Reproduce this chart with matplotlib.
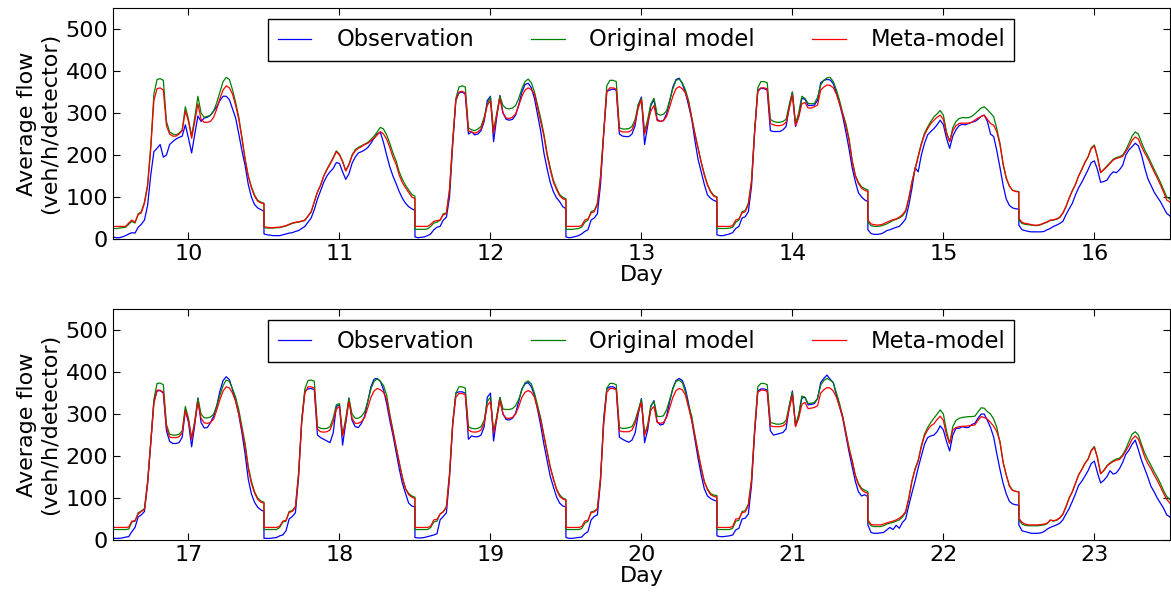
import numpy as np
import matplotlib
matplotlib.use("Agg")
import matplotlib.pyplot as plt

# sample times inside one day (hours), every 30 min from 0:00 to 24:00
HALF_HOURS = np.arange(0, 24.5, 0.5)

DAYS_TOP = [10, 11, 12, 13, 14, 15, 16]
DAYS_BOTTOM = [17, 18, 19, 20, 21, 22, 23]

# ---- week 1 (days 10-16) ----
obs_top = [
    [5, 3, 3, 5, 8, 12, 15, 14, 28, 35, 45, 80,
     152, 208, 216, 225, 195, 200, 225, 232, 238, 242, 245, 272,
     240, 205, 250, 293, 280, 288, 290, 295, 305, 315, 330, 340,
     340, 332, 310, 288, 250, 210, 175, 130, 100, 82, 74, 70, 66],
    [12, 10, 9, 8, 8, 8, 10, 12, 14, 15, 18, 20,
     25, 30, 40, 50, 70, 95, 115, 135, 150, 160, 168, 182,
     180, 160, 142, 155, 180, 195, 205, 208, 212, 218, 228, 240,
     250, 254, 230, 200, 172, 150, 132, 113, 97, 85, 77, 72, 68],
    [5, 3, 4, 5, 8, 12, 22, 28, 30, 45, 52, 100,
     225, 330, 348, 350, 345, 250, 255, 248, 250, 258, 280, 330,
     340, 232, 290, 342, 300, 285, 283, 285, 295, 320, 350, 368,
     371, 360, 335, 295, 256, 205, 168, 135, 113, 98, 89, 77, 72],
    [5, 3, 4, 6, 8, 12, 18, 22, 45, 50, 60, 130,
     250, 352, 355, 357, 355, 250, 245, 244, 244, 250, 270, 320,
     338, 225, 270, 318, 332, 285, 280, 282, 298, 330, 362, 380,
     383, 370, 348, 318, 285, 235, 190, 160, 130, 105, 97, 92, 89],
    [10, 8, 8, 10, 12, 15, 25, 30, 50, 53, 65, 125,
     255, 355, 359, 358, 355, 258, 256, 256, 256, 260, 268, 315,
     350, 268, 292, 335, 333, 318, 318, 319, 330, 372, 378, 380,
     379, 370, 348, 322, 292, 255, 215, 170, 137, 110, 100, 93, 89],
    [22, 13, 11, 11, 12, 15, 20, 22, 25, 28, 30, 38,
     48, 80, 120, 170, 160, 200, 228, 248, 256, 263, 272, 283,
     272, 240, 216, 245, 260, 270, 273, 272, 275, 278, 280, 285,
     292, 295, 280, 250, 244, 210, 170, 128, 95, 80, 74, 72, 71],
    [33, 22, 20, 18, 17, 17, 17, 17, 18, 22, 25, 30,
     33, 37, 42, 58, 72, 85, 105, 122, 135, 150, 165, 182,
     186, 165, 135, 137, 140, 152, 160, 158, 165, 175, 200, 212,
     220, 228, 222, 200, 170, 144, 128, 112, 100, 89, 75, 61, 55],
]

orig_top = [
    [25, 25, 26, 27, 28, 35, 42, 38, 60, 65, 88, 130,
     220, 345, 380, 382, 378, 280, 255, 250, 248, 252, 260, 315,
     285, 245, 290, 340, 300, 290, 292, 295, 305, 325, 350, 375,
     385, 380, 355, 325, 290, 240, 190, 150, 125, 105, 92, 88, 85],
    [27, 26, 26, 26, 27, 27, 29, 31, 34, 37, 39, 40,
     42, 44, 54, 64, 88, 112, 128, 150, 166, 180, 194, 210,
     202, 185, 163, 178, 200, 213, 218, 222, 226, 230, 237, 245,
     255, 266, 262, 248, 228, 205, 186, 160, 142, 128, 117, 106, 102],
    [23, 23, 23, 23, 24, 30, 38, 40, 45, 60, 62, 115,
     230, 335, 362, 365, 362, 265, 260, 258, 262, 268, 290, 322,
     338, 258, 300, 340, 318, 311, 310, 312, 318, 335, 358, 375,
     381, 372, 350, 318, 287, 250, 205, 170, 140, 122, 106, 99, 96],
    [23, 23, 23, 24, 25, 28, 40, 45, 65, 68, 85, 150,
     255, 365, 378, 378, 375, 265, 262, 262, 263, 268, 285, 320,
     335, 255, 285, 322, 335, 298, 295, 297, 305, 330, 358, 378,
     381, 372, 355, 330, 290, 252, 218, 184, 155, 130, 114, 104, 100],
    [25, 25, 25, 25, 26, 28, 40, 45, 65, 68, 85, 140,
     260, 360, 375, 375, 372, 285, 280, 278, 278, 280, 285, 320,
     350, 275, 300, 340, 335, 323, 322, 323, 337, 367, 378, 384,
     385, 375, 355, 330, 300, 275, 240, 188, 152, 135, 124, 120, 117],
    [40, 32, 30, 30, 31, 33, 36, 40, 44, 47, 50, 55,
     65, 95, 135, 168, 198, 228, 252, 267, 280, 291, 298, 306,
     295, 255, 232, 265, 280, 287, 289, 289, 289, 292, 298, 305,
     312, 315, 308, 300, 291, 262, 228, 178, 145, 126, 116, 114, 113],
    [45, 37, 35, 34, 33, 32, 32, 34, 37, 40, 44, 45,
     47, 51, 61, 77, 97, 115, 130, 150, 166, 183, 196, 217,
     224, 195, 158, 166, 174, 182, 190, 194, 196, 200, 212, 228,
     245, 255, 250, 230, 212, 198, 182, 166, 151, 135, 118, 100, 95],
]

meta_top = [
    [30, 30, 30, 30, 30, 38, 45, 40, 58, 62, 85, 125,
     215, 330, 358, 360, 355, 270, 250, 245, 245, 250, 258, 305,
     280, 240, 280, 322, 285, 278, 278, 280, 290, 310, 335, 355,
     365, 360, 345, 318, 285, 240, 190, 150, 122, 102, 90, 86, 84],
    [29, 28, 27, 27, 28, 28, 30, 32, 35, 38, 40, 41,
     43, 45, 55, 65, 89, 112, 128, 150, 165, 178, 192, 208,
     200, 184, 162, 176, 198, 210, 216, 220, 225, 228, 234, 240,
     248, 256, 250, 238, 218, 195, 178, 152, 134, 122, 111, 100, 96],
    [30, 30, 30, 30, 30, 35, 42, 44, 45, 58, 60, 120,
     235, 330, 350, 352, 348, 258, 255, 252, 255, 262, 285, 318,
     330, 252, 295, 335, 300, 288, 287, 290, 298, 318, 340, 355,
     360, 356, 345, 312, 280, 245, 200, 165, 136, 118, 103, 96, 93],
    [30, 30, 30, 30, 30, 32, 45, 48, 62, 65, 82, 145,
     250, 352, 360, 360, 357, 258, 255, 255, 255, 260, 278, 312,
     332, 250, 278, 305, 318, 282, 280, 282, 292, 315, 340, 358,
     363, 358, 348, 325, 288, 250, 216, 182, 152, 128, 112, 102, 99],
    [30, 30, 30, 30, 30, 32, 45, 48, 62, 65, 82, 135,
     255, 350, 360, 360, 358, 275, 272, 270, 270, 272, 278, 310,
     343, 270, 290, 322, 325, 312, 312, 315, 319, 355, 362, 367,
     366, 360, 345, 322, 298, 268, 235, 185, 150, 132, 121, 116, 113],
    [45, 36, 34, 33, 34, 36, 40, 43, 46, 48, 52, 58,
     68, 97, 135, 165, 195, 225, 248, 263, 275, 283, 290, 295,
     285, 250, 232, 258, 270, 275, 276, 276, 276, 278, 283, 288,
     292, 295, 285, 275, 271, 255, 225, 178, 145, 126, 116, 113, 112],
    [49, 40, 37, 36, 34, 33, 33, 35, 38, 41, 45, 46,
     48, 52, 62, 78, 98, 115, 130, 150, 165, 182, 195, 215,
     222, 195, 158, 165, 172, 180, 188, 192, 194, 197, 208, 220,
     235, 243, 238, 220, 205, 192, 176, 160, 145, 129, 112, 93, 88],
]

# ---- week 2 (days 17-23) ----
obs_bottom = [
    [4, 4, 4, 5, 7, 8, 20, 30, 55, 60, 68, 135,
     230, 330, 355, 356, 350, 260, 235, 230, 230, 232, 245, 310,
     280, 222, 275, 338, 280, 267, 268, 280, 295, 320, 355, 380,
     389, 382, 358, 332, 298, 255, 205, 145, 110, 90, 78, 72, 68],
    [4, 4, 4, 5, 6, 10, 12, 22, 50, 56, 65, 150,
     285, 355, 360, 361, 358, 250, 244, 240, 236, 232, 255, 318,
     322, 226, 280, 338, 285, 270, 268, 278, 295, 330, 365, 383,
     385, 378, 358, 325, 285, 250, 210, 170, 135, 111, 88, 81, 79],
    [6, 5, 5, 6, 8, 10, 12, 15, 48, 56, 65, 150,
     275, 350, 353, 353, 350, 240, 248, 246, 246, 250, 270, 340,
     350, 236, 290, 339, 300, 287, 286, 290, 302, 330, 360, 372,
     375, 365, 345, 310, 272, 228, 190, 152, 127, 103, 88, 81, 79],
    [6, 4, 4, 5, 6, 7, 15, 20, 48, 56, 60, 140,
     290, 360, 365, 365, 360, 245, 240, 236, 233, 238, 255, 300,
     337, 232, 262, 318, 332, 282, 274, 276, 295, 330, 362, 380,
     385, 380, 360, 325, 285, 240, 195, 155, 122, 105, 99, 95, 93],
    [10, 8, 8, 9, 10, 12, 24, 28, 50, 52, 62, 130,
     255, 355, 360, 360, 357, 260, 250, 252, 254, 256, 265, 318,
     355, 272, 295, 338, 340, 322, 323, 325, 337, 375, 385, 393,
     383, 375, 345, 318, 290, 250, 210, 175, 140, 115, 105, 108, 103],
    [36, 18, 16, 16, 17, 18, 24, 30, 25, 35, 28, 42,
     50, 82, 112, 140, 172, 200, 228, 244, 248, 250, 258, 272,
     262, 235, 212, 250, 266, 266, 270, 268, 268, 275, 278, 290,
     300, 300, 285, 268, 245, 205, 168, 135, 110, 92, 86, 84, 83],
    [36, 22, 20, 18, 16, 16, 16, 17, 20, 26, 30, 33,
     36, 40, 48, 62, 75, 92, 110, 130, 140, 152, 165, 182,
     188, 160, 136, 142, 151, 165, 157, 160, 170, 185, 204, 214,
     228, 238, 215, 190, 170, 150, 128, 115, 100, 88, 76, 60, 55],
]

orig_bottom = [
    [25, 25, 25, 25, 25, 26, 43, 45, 65, 69, 75, 140,
     235, 335, 373, 374, 370, 275, 252, 250, 250, 252, 260, 318,
     290, 242, 285, 338, 300, 291, 291, 293, 300, 320, 345, 368,
     381, 378, 360, 340, 310, 270, 230, 175, 140, 115, 100, 93, 90],
    [25, 25, 25, 25, 25, 30, 43, 45, 68, 70, 80, 160,
     285, 360, 380, 381, 378, 270, 266, 265, 266, 270, 290, 322,
     325, 250, 290, 338, 300, 290, 290, 295, 305, 330, 360, 378,
     384, 378, 368, 345, 300, 262, 222, 185, 150, 123, 111, 105, 102],
    [25, 25, 25, 25, 25, 30, 43, 45, 62, 68, 80, 160,
     280, 350, 365, 365, 362, 270, 266, 265, 266, 270, 285, 330,
     340, 258, 295, 340, 312, 311, 311, 313, 320, 335, 358, 375,
     379, 372, 350, 320, 290, 250, 212, 175, 147, 122, 108, 100, 97],
    [25, 25, 25, 25, 25, 27, 40, 45, 67, 69, 75, 150,
     280, 362, 373, 373, 370, 268, 266, 266, 268, 270, 285, 310,
     335, 252, 275, 320, 330, 295, 294, 296, 310, 335, 360, 378,
     381, 375, 352, 320, 295, 250, 210, 171, 140, 122, 111, 107, 106],
    [25, 25, 25, 25, 25, 28, 45, 47, 68, 70, 85, 145,
     265, 365, 373, 373, 370, 280, 278, 276, 276, 278, 285, 320,
     352, 272, 300, 343, 340, 325, 326, 328, 337, 369, 380, 385,
     381, 375, 350, 325, 295, 258, 220, 190, 155, 135, 123, 119, 115],
    [44, 34, 32, 32, 32, 34, 38, 40, 42, 45, 48, 55,
     65, 97, 140, 170, 190, 225, 252, 268, 280, 290, 300, 310,
     300, 260, 230, 270, 285, 290, 292, 293, 294, 294, 295, 305,
     315, 314, 306, 300, 288, 268, 232, 185, 155, 130, 119, 116, 115],
    [48, 38, 35, 34, 34, 34, 34, 35, 36, 39, 47, 45,
     47, 52, 61, 79, 100, 115, 135, 155, 168, 183, 193, 214,
     223, 196, 158, 166, 177, 184, 189, 193, 195, 203, 217, 235,
     252, 258, 250, 228, 207, 192, 178, 163, 150, 135, 118, 104, 96],
]

meta_bottom = [
    [30, 30, 30, 30, 30, 31, 45, 46, 62, 68, 73, 135,
     230, 325, 357, 357, 352, 268, 245, 244, 244, 246, 255, 308,
     285, 240, 280, 328, 290, 279, 278, 280, 288, 310, 335, 355,
     365, 362, 350, 330, 300, 262, 222, 170, 135, 112, 97, 90, 88],
    [30, 30, 30, 30, 30, 33, 45, 47, 66, 68, 78, 155,
     280, 350, 365, 365, 362, 264, 258, 257, 258, 262, 282, 312,
     318, 248, 280, 330, 290, 278, 278, 282, 292, 315, 340, 355,
     361, 358, 352, 335, 295, 258, 220, 183, 148, 122, 108, 102, 99],
    [30, 30, 30, 30, 30, 33, 48, 49, 62, 67, 78, 155,
     275, 340, 349, 349, 346, 262, 258, 257, 258, 262, 278, 320,
     330, 255, 288, 333, 300, 290, 290, 292, 300, 318, 340, 352,
     356, 352, 340, 312, 285, 247, 210, 173, 145, 120, 104, 98, 95],
    [30, 30, 30, 30, 30, 32, 45, 47, 65, 67, 73, 145,
     275, 352, 361, 361, 358, 260, 258, 258, 258, 262, 278, 305,
     328, 250, 270, 310, 318, 280, 278, 280, 292, 315, 340, 356,
     361, 358, 345, 315, 285, 248, 208, 173, 138, 120, 108, 104, 102],
    [30, 30, 30, 30, 30, 32, 50, 51, 65, 67, 82, 140,
     260, 352, 357, 357, 354, 272, 270, 270, 270, 272, 278, 312,
     345, 270, 290, 323, 328, 313, 314, 316, 320, 350, 358, 363,
     362, 355, 340, 318, 293, 256, 218, 188, 153, 132, 120, 114, 111],
    [48, 37, 36, 36, 36, 38, 41, 43, 45, 48, 52, 58,
     68, 100, 140, 168, 188, 222, 248, 262, 272, 277, 287, 295,
     285, 250, 230, 262, 268, 270, 271, 271, 272, 273, 274, 285,
     294, 292, 288, 280, 271, 258, 235, 185, 155, 128, 118, 116, 114],
    [52, 42, 38, 36, 36, 36, 36, 37, 38, 40, 48, 46,
     48, 53, 62, 80, 100, 115, 135, 155, 168, 182, 192, 212,
     221, 195, 158, 165, 176, 182, 187, 190, 192, 200, 212, 225,
     240, 248, 240, 220, 198, 182, 170, 155, 142, 127, 111, 97, 88],
]


def stitch(days, per_day):
    # each day is drawn from day-0.5 (midnight) to day+0.5 (next midnight)
    xs, ys = [], []
    for day, vals in zip(days, per_day):
        assert len(vals) == len(HALF_HOURS), f"day {day}: {len(vals)} values"
        xs.extend(day - 0.5 + HALF_HOURS / 24.0)
        ys.extend(vals)
    return np.array(xs), np.array(ys)


def draw_week(ax, days, obs, orig, meta):
    x, y = stitch(days, obs)
    ax.plot(x, y, color='b', lw=0.9, label='Observation')
    x, y = stitch(days, orig)
    ax.plot(x, y, color='g', lw=0.9, label='Original model')
    x, y = stitch(days, meta)
    ax.plot(x, y, color='r', lw=0.9, label='Meta-model')

    ax.set_xlim(days[0] - 0.5, days[-1] + 0.5)
    ax.set_ylim(0, 550)
    ax.set_xticks(days)
    ax.set_yticks(range(0, 501, 100))
    ax.tick_params(direction='in', top=True, right=True, labelsize=16, length=5)
    ax.set_xlabel('Day', fontsize=16, labelpad=1)
    ax.set_ylabel('Average flow\n(veh/h/detector)', fontsize=16, labelpad=4)
    leg = ax.legend(loc='upper center', ncol=3, fontsize=16.3, fancybox=False,
                    edgecolor='black', framealpha=1, handlelength=1.5,
                    handletextpad=1.1, columnspacing=2.5, borderpad=0.4)
    leg.get_frame().set_linewidth(1.0)


fig = plt.figure(figsize=(11.71, 5.92), dpi=100)
ax_top = fig.add_axes([0.0965, 0.5963, 0.9025, 0.390])
ax_bottom = fig.add_axes([0.0965, 0.0878, 0.9025, 0.390])

draw_week(ax_top, DAYS_TOP, obs_top, orig_top, meta_top)
draw_week(ax_bottom, DAYS_BOTTOM, obs_bottom, orig_bottom, meta_bottom)

fig.savefig('out.png', dpi=100)
